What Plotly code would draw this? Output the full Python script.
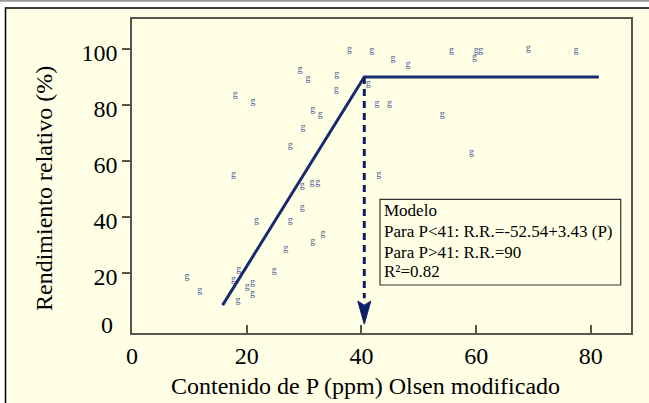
import plotly.graph_objects as go

# ---------------- data ----------------
p_ppm = [9.6, 11.8, 17.7, 18.6, 18.5, 20.1, 21.0, 21.0, 24.8, 26.8,
         21.7, 27.6, 29.7, 31.5, 33.3, 29.7, 31.4, 32.4, 17.7, 27.6,
         29.8, 31.5, 32.8, 18.0, 21.1, 29.3, 30.7, 35.7, 35.6, 37.9,
         41.8, 41.2, 42.7, 44.9, 43.0, 45.5, 48.1, 54.1, 55.7, 59.7,
         60.0, 60.8, 59.2, 69.1, 77.4]
rend_rel = [18.6, 13.8, 17.6, 21.0, 10.0, 15.0, 16.4, 12.5, 20.8, 28.6,
            38.6, 38.6, 43.4, 31.1, 34.1, 51.2, 52.2, 52.2, 55.2, 65.6,
            72.0, 78.4, 76.6, 83.9, 81.2, 92.7, 89.4, 90.9, 85.6, 99.9,
            99.4, 87.5, 80.6, 80.6, 55.2, 96.5, 94.5, 76.6, 99.6, 96.8,
            99.4, 99.4, 62.9, 100.1, 99.4]

model_x = [15.8, 40.5, 81.4]
model_y = [8.4, 90.0, 90.0]

arrow_x = 40.5
arrow_y_top = 90.0
arrow_y_tip = 1.6

x_ticks = [0, 20, 40, 60, 80]
y_ticks = [20, 40, 60, 80, 100]

model_lines = ["Modelo",
               "Para P&lt;41: R.R.=-52.54+3.43 (P)",
               "Para P&gt;41: R.R.=90",
               "R²=0.82"]

x_title = "Contenido de P (ppm) Olsen modificado"
y_title = "Rendimiento relativo (%)"

# ---------------- layout geometry ----------------
W, H = 649, 403
L, R, T, B = 132, 18, 19, 70
PW, PH = W - L - R, H - T - B
X_RANGE = [0, 87]
Y_RANGE = [-1.57, 110.73]

def pxx(px):
    return (px - L) / PW

def pxy(py):
    return (H - B - py) / PH

FONT = "Liberation Serif"
BG = "#FFFFE6"
NAVY = "#1a2a6e"
AXC = "#555550"

fig = go.Figure()

# points drawn as "g" symbols
fig.add_trace(go.Scatter(
    x=p_ppm, y=rend_rel, mode="text", text=["g"] * len(p_ppm),
    textfont=dict(family=FONT, size=10, color="#4f6096"),
    hoverinfo="x+y", showlegend=False))

# model line
fig.add_trace(go.Scatter(
    x=model_x, y=model_y, mode="lines",
    line=dict(color=NAVY, width=3), showlegend=False))

# dashed arrow shaft
head_len_px, head_hw_px, notch_px = 23, 6.5, 4
ux = (X_RANGE[1] - X_RANGE[0]) / PW
uy = (Y_RANGE[1] - Y_RANGE[0]) / PH
base_y = arrow_y_tip + head_len_px * uy
fig.add_trace(go.Scatter(
    x=[arrow_x, arrow_x], y=[arrow_y_top, base_y + 1.0], mode="lines",
    line=dict(color="#0f2068", width=3, dash="7px,5px"), showlegend=False))
# arrow head
fig.add_trace(go.Scatter(
    x=[arrow_x, arrow_x - head_hw_px * ux, arrow_x, arrow_x + head_hw_px * ux, arrow_x],
    y=[arrow_y_tip, base_y, base_y - notch_px * uy, base_y, arrow_y_tip],
    mode="lines", fill="toself", fillcolor="#0f2068",
    line=dict(color="#0f2068", width=1), showlegend=False))

shapes = [
    # outer frame
    dict(type="rect", xref="paper", yref="paper",
         x0=pxx(5.5), x1=pxx(670), y0=pxy(430), y1=pxy(8),
         line=dict(color="#000000", width=1.5), fillcolor=BG, layer="below"),
    # grey rule at top
    dict(type="line", xref="paper", yref="paper",
         x0=pxx(-5), x1=pxx(670), y0=pxy(0.8), y1=pxy(0.8),
         line=dict(color="#9a9a9a", width=2)),
    # model box
    dict(type="rect", xref="paper", yref="paper",
         x0=pxx(380), x1=pxx(620.7), y0=pxy(285), y1=pxy(199.3),
         line=dict(color="#333333", width=1.2)),
]

annotations = []
line_y = [210.7, 231.7, 252.3, 271.7]
for txt, yy in zip(model_lines, line_y):
    annotations.append(dict(
        text=txt, xref="paper", yref="paper", x=pxx(382), y=pxy(yy),
        xanchor="left", yanchor="middle", showarrow=False,
        font=dict(family=FONT, size=17, color="#000000")))

annotations.append(dict(
    text=x_title, xref="paper", yref="paper", x=pxx(365.5), y=pxy(386),
    xanchor="center", yanchor="middle", showarrow=False,
    font=dict(family=FONT, size=24, color="#000000")))
annotations.append(dict(
    text=y_title, xref="paper", yref="paper", x=pxx(43.5), y=pxy(188.5),
    xanchor="center", yanchor="middle", showarrow=False, textangle=-90,
    font=dict(family=FONT, size=24, color="#000000")))
# "0" label on y axis (no tick there)
annotations.append(dict(
    text="0", xref="paper", yref="y", x=pxx(115), y=0, yshift=4,
    xanchor="right", yanchor="middle", showarrow=False,
    font=dict(family=FONT, size=24, color="#000000")))

fig.update_layout(
    width=W, height=H,
    margin=dict(l=L, r=R, t=T, b=B, pad=0),
    paper_bgcolor="#FFFFFF", plot_bgcolor=BG,
    shapes=shapes, annotations=annotations,
    font=dict(family=FONT, color="#000000"),
    showlegend=False,
)
fig.update_xaxes(
    range=X_RANGE, tickvals=x_ticks, ticktext=[str(v) for v in x_ticks],
    ticks="inside", ticklen=8, tickwidth=1.5, tickcolor=AXC,
    showline=True, linecolor=AXC, linewidth=1.5, mirror=True,
    showgrid=False, zeroline=False,
    tickfont=dict(family=FONT, size=24, color="#000000"))
fig.update_yaxes(
    range=Y_RANGE, tickvals=y_ticks, ticktext=[str(v) for v in y_ticks],
    ticks="outside", ticklen=8, tickwidth=1.5, tickcolor=AXC,
    showline=True, linecolor=AXC, linewidth=1.5, mirror=True,
    showgrid=False, zeroline=False, ticklabelshift=4,
    tickfont=dict(family=FONT, size=24, color="#000000"))

fig.write_html(
    "out.html",
    config={"displayModeBar": False},
    post_script="document.body.style.margin='0';document.body.style.overflow='hidden';",
)
